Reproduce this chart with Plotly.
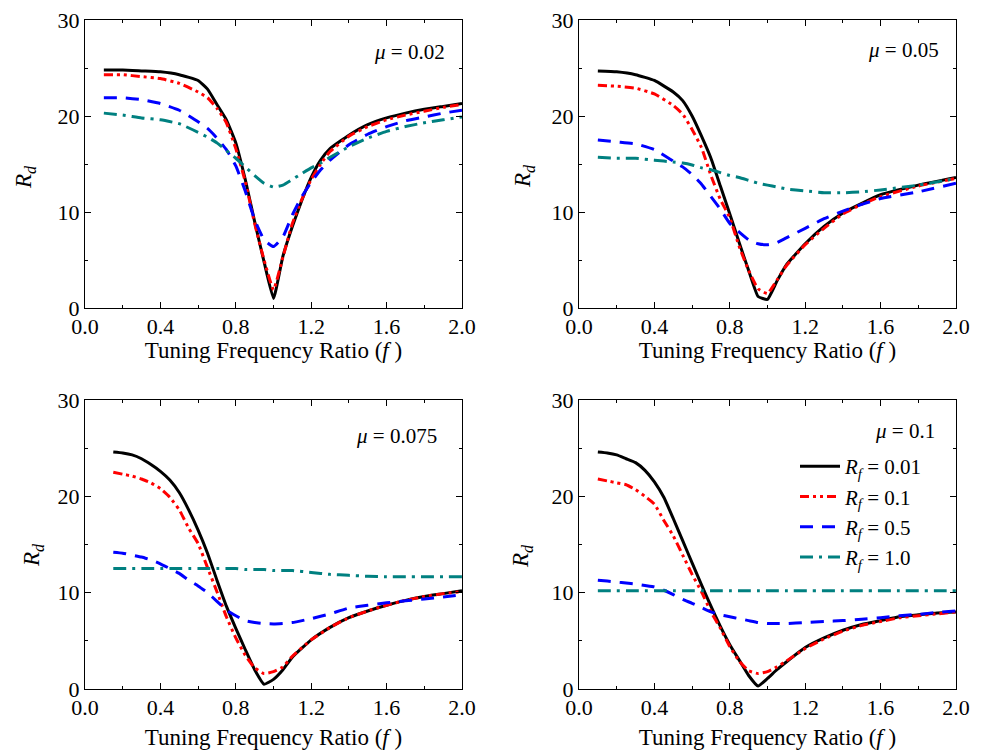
import plotly.graph_objects as go
from plotly.subplots import make_subplots

# ---------------- data ----------------
f1 = [0.1, 0.2, 0.3, 0.4, 0.5, 0.6, 0.65, 0.7, 0.75, 0.8, 0.85, 0.9, 0.95, 1.0, 1.05, 1.1, 1.15, 1.2, 1.25, 1.3, 1.4, 1.5, 1.6, 1.7, 1.8, 1.9, 2.0]
p1_rf001 = [24.8, 24.8, 24.7, 24.6, 24.3, 23.7, 22.8, 21.2, 19.6, 17.2, 13.4, 9.0, 4.8, 1.0, 5.4, 8.5, 11.2, 13.6, 15.4, 16.6, 18.0, 19.1, 19.8, 20.3, 20.7, 21.0, 21.3]
p1_rf01 = [24.3, 24.3, 24.1, 23.9, 23.4, 22.5, 21.9, 20.8, 19.3, 16.6, 13.2, 8.8, 5.0, 1.9, 5.3, 8.8, 11.3, 13.4, 15.0, 16.3, 17.9, 18.9, 19.6, 20.1, 20.5, 20.9, 21.2]
p1_rf05 = [21.9, 21.9, 21.7, 21.3, 20.6, 19.4, 18.7, 17.7, 16.5, 14.8, 12.2, 9.2, 7.1, 6.4, 7.4, 9.7, 11.6, 13.1, 14.4, 15.4, 17.0, 18.1, 18.9, 19.5, 19.9, 20.3, 20.6]
p1_rf10 = [20.3, 20.1, 19.8, 19.6, 19.2, 18.3, 17.8, 17.2, 16.4, 15.6, 14.7, 13.8, 13.0, 12.6, 12.8, 13.4, 14.0, 14.6, 15.1, 15.7, 16.8, 17.7, 18.4, 18.9, 19.3, 19.6, 19.9]

f2 = [0.1, 0.2, 0.3, 0.4, 0.5, 0.55, 0.6, 0.65, 0.7, 0.75, 0.8, 0.85, 0.9, 0.95, 1.0, 1.05, 1.1, 1.2, 1.3, 1.4, 1.5, 1.6, 1.8, 2.0]
p2_rf001 = [24.7, 24.6, 24.3, 23.7, 22.5, 21.6, 20.0, 17.9, 15.6, 12.7, 9.8, 6.8, 3.9, 1.2, 0.9, 2.8, 4.5, 6.7, 8.5, 9.9, 10.9, 11.8, 12.8, 13.6]
p2_rf01 = [23.2, 23.1, 22.9, 22.3, 21.1, 20.2, 18.6, 16.7, 13.8, 11.3, 9.4, 6.4, 3.9, 2.0, 1.5, 2.9, 4.4, 6.6, 8.3, 9.8, 10.8, 11.6, 12.7, 13.5]
p2_rf05 = [17.5, 17.3, 17.1, 16.5, 15.3, 14.7, 13.9, 12.9, 11.6, 10.3, 8.8, 7.9, 7.1, 6.7, 6.6, 6.8, 7.3, 8.3, 9.3, 10.1, 10.8, 11.4, 12.1, 13.0]
p2_rf10 = [15.7, 15.6, 15.6, 15.4, 15.2, 15.1, 14.9, 14.6, 14.4, 14.1, 13.8, 13.6, 13.3, 13.0, 12.8, 12.6, 12.4, 12.2, 12.0, 12.0, 12.1, 12.3, 12.8, 13.5]

f3 = [0.15, 0.2, 0.25, 0.3, 0.35, 0.4, 0.45, 0.5, 0.55, 0.6, 0.65, 0.7, 0.75, 0.8, 0.85, 0.9, 0.95, 1.0, 1.05, 1.1, 1.2, 1.3, 1.4, 1.5, 1.6, 1.7, 1.8, 1.9, 2.0]
p3_rf001 = [24.6, 24.5, 24.3, 23.9, 23.3, 22.6, 21.7, 20.4, 18.6, 16.5, 14.1, 11.3, 8.6, 6.3, 4.1, 2.0, 0.5, 1.0, 2.0, 3.3, 5.1, 6.4, 7.4, 8.1, 8.7, 9.2, 9.6, 9.9, 10.2]
p3_rf01 = [22.5, 22.3, 22.1, 21.8, 21.4, 20.8, 19.9, 18.6, 16.7, 15.1, 12.6, 10.1, 7.5, 5.3, 3.5, 2.2, 1.6, 1.8, 2.3, 3.4, 5.1, 6.4, 7.4, 8.1, 8.7, 9.2, 9.6, 9.9, 10.1]
p3_rf05 = [14.2, 14.1, 13.9, 13.7, 13.4, 13.0, 12.5, 12.0, 11.3, 10.7, 10.0, 9.1, 8.2, 7.6, 7.1, 6.9, 6.8, 6.75, 6.8, 6.9, 7.3, 7.8, 8.4, 8.7, 8.95, 9.15, 9.35, 9.55, 9.8]
p3_rf10 = [12.5, 12.5, 12.5, 12.5, 12.5, 12.5, 12.5, 12.5, 12.5, 12.5, 12.5, 12.5, 12.5, 12.5, 12.4, 12.4, 12.4, 12.3, 12.3, 12.3, 12.1, 11.9, 11.8, 11.7, 11.65, 11.65, 11.65, 11.65, 11.65]

f4 = [0.1, 0.15, 0.2, 0.25, 0.3, 0.35, 0.4, 0.45, 0.5, 0.55, 0.6, 0.65, 0.7, 0.75, 0.8, 0.85, 0.9, 0.95, 1.0, 1.05, 1.1, 1.2, 1.3, 1.4, 1.5, 1.6, 1.7, 1.8, 1.9, 2.0]
p4_rf001 = [24.6, 24.5, 24.3, 23.9, 23.5, 22.7, 21.5, 19.9, 17.7, 15.4, 13.1, 10.8, 8.6, 6.5, 4.6, 3.0, 1.4, 0.3, 1.1, 2.0, 2.8, 4.3, 5.3, 6.1, 6.7, 7.1, 7.5, 7.7, 7.9, 8.0]
p4_rf01 = [21.8, 21.6, 21.4, 21.2, 20.7, 20.0, 19.2, 17.5, 15.9, 13.9, 11.9, 10.1, 8.0, 6.3, 4.4, 2.9, 1.9, 1.6, 1.8, 2.3, 2.9, 4.2, 5.2, 6.0, 6.6, 7.0, 7.4, 7.6, 7.8, 8.0]
p4_rf05 = [11.3, 11.2, 11.1, 11.0, 10.9, 10.75, 10.6, 10.25, 9.8, 9.3, 8.9, 8.45, 8.0, 7.7, 7.5, 7.3, 7.1, 6.9, 6.8, 6.8, 6.8, 6.9, 7.0, 7.1, 7.25, 7.4, 7.6, 7.75, 7.95, 8.1]
p4_rf10 = [10.2, 10.2, 10.2, 10.2, 10.2, 10.2, 10.2, 10.2, 10.2, 10.2, 10.2, 10.2, 10.2, 10.2, 10.2, 10.2, 10.2, 10.2, 10.2, 10.2, 10.2, 10.2, 10.2, 10.2, 10.2, 10.2, 10.2, 10.2, 10.2, 10.2]

mu_labels = ["0.02", "0.05", "0.075", "0.1"]
rf_labels = ["0.01", "0.1", "0.5", "1.0"]
x_ticks = [0.0, 0.4, 0.8, 1.2, 1.6, 2.0]
x_tick_text = ["0.0", "0.4", "0.8", "1.2", "1.6", "2.0"]
y_ticks = [0, 10, 20, 30]

# ---------------- styling ----------------
FONT = "Liberation Serif, Times New Roman, Times, serif"
FS_TICK = 22
FS_TITLE = 23
FS_SMALL = 21
styles = [
    dict(color="#000000", width=3, dash="solid"),
    dict(color="#FF0000", width=3, dash="9px,4px,3px,4px,3px,4px"),
    dict(color="#0000FF", width=3, dash="13px,9px"),
    dict(color="#008080", width=3, dash="13px,6px,3px,6px"),
]

panels = [
    (f1, [p1_rf001, p1_rf01, p1_rf05, p1_rf10]),
    (f2, [p2_rf001, p2_rf01, p2_rf05, p2_rf10]),
    (f3, [p3_rf001, p3_rf01, p3_rf05, p3_rf10]),
    (f4, [p4_rf001, p4_rf01, p4_rf05, p4_rf10]),
]

fig = make_subplots(rows=2, cols=2)

W, H = 983, 754
xdoms = [[85 / W, 462 / W], [579 / W, 956 / W]]
ydoms = [[1 - 308 / H, 1 - 20 / H], [1 - 689 / H, 1 - 400 / H]]

for i, (fx, series) in enumerate(panels):
    r, c = i // 2 + 1, i % 2 + 1
    for j, ys in enumerate(series):
        st = dict(styles[j])
        st.update(shape="spline", smoothing=0.4)
        fig.add_trace(
            go.Scatter(
                x=fx, y=ys, mode="lines",
                line=st,
                name="<i>R</i><sub><i>f</i></sub> = " + rf_labels[j],
                showlegend=(i == 3),
            ),
            row=r, col=c,
        )

axis_common = dict(
    showline=True, linecolor="black", linewidth=1.2, mirror="ticks",
    ticks="inside", ticklen=6, tickwidth=1.2, tickcolor="black",
    showgrid=False, zeroline=False, automargin=False,
    tickfont=dict(family=FONT, size=FS_TICK, color="black"),
)

for i in range(4):
    r, c = i // 2, i % 2
    n = "" if i == 0 else str(i + 1)
    fig.layout["xaxis" + n].update(
        domain=xdoms[c], range=[0, 2.0],
        tickvals=x_ticks, ticktext=x_tick_text, ticklabelstandoff=-2,
        minor=dict(tickvals=[0.2, 0.6, 1.0, 1.4, 1.8], ticks="inside", ticklen=3, tickcolor="black"),
        title=dict(text="Tuning Frequency Ratio (<i>f</i> )", font=dict(family=FONT, size=FS_TITLE, color="black"),
                   standoff=2 if r == 0 else 10),
        **axis_common,
    )
    fig.layout["yaxis" + n].update(
        domain=ydoms[r], range=[0, 30],
        tickvals=y_ticks,
        minor=dict(tickvals=[5, 15, 25], ticks="inside", ticklen=3, tickcolor="black"),
        **axis_common,
    )

# y-axis titles placed as rotated annotations
rd_pos = [(25, 177), (524, 176), (33, 555), (522, 556)]
for (px, py) in rd_pos:
    fig.add_annotation(
        x=px / W, y=1 - py / H, xref="paper", yref="paper",
        text="<i>R</i><sub><i>d</i></sub>", textangle=-90, showarrow=False,
        font=dict(family=FONT, size=FS_TITLE, color="black"),
        xanchor="center", yanchor="middle",
    )

mu_pos = [(1.72, 26.7), (1.72, 26.9), (1.65, 26.3), (1.73, 26.8)]
for i in range(4):
    n = "" if i == 0 else str(i + 1)
    fig.add_annotation(
        x=mu_pos[i][0], y=mu_pos[i][1], xref="x" + n, yref="y" + n,
        text="<i>μ</i> = " + mu_labels[i], showarrow=False,
        font=dict(family=FONT, size=FS_SMALL, color="black"),
        xanchor="center", yanchor="middle",
    )

fig.update_layout(
    width=W, height=H,
    margin=dict(l=0, r=0, t=0, b=0),
    paper_bgcolor="white", plot_bgcolor="white",
    font=dict(family=FONT, size=FS_SMALL, color="black"),
    hovermode=False,
    legend=dict(
        x=795 / W, y=1 - 446 / H, xanchor="left", yanchor="top",
        bgcolor="rgba(0,0,0,0)", font=dict(family=FONT, size=FS_SMALL, color="black"),
        tracegroupgap=0, itemwidth=40,
    ),
)

fig.write_html(
    "out.html",
    config={"displayModeBar": False},
    post_script="document.body.style.margin='0';document.body.style.overflow='hidden';",
)
